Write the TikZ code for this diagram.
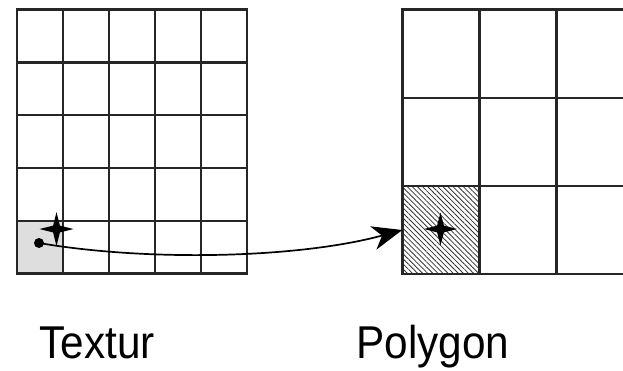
\documentclass[tikz,border=0pt]{standalone}
\usepackage{fontspec}
\setmainfont{Liberation Sans}
\usetikzlibrary{arrows.meta,patterns.meta}
\tikzset{
  gridline/.style={line width=2.4pt,black!85},
  starshape/.style={fill=black},
  lbl/.style={font=\fontsize{46}{50}\selectfont,anchor=base,inner sep=0pt,xscale=0.92},
  link/.style={line width=1.7pt,-{Stealth[length=30pt,width=24pt,inset=9pt]}},
}
\newcommand{\fourstar}[4]{% center x, y, arm length, inner
  \fill[starshape] (#1,#2) ++(0,-#3) -- ++(#4,{#3-#4}) -- ++({#3-#4},#4) -- ++({-#3+#4},#4) -- ++(-#4,{#3-#4}) -- ++(-#4,{-#3+#4}) -- ++({-#3+#4},-#4) -- ++({#3-#4},-#4) -- cycle;}
\begin{document}
\begin{tikzpicture}[x=1pt,y=-1pt]
\useasboundingbox (0,0) rectangle (623,370);
\fill[white] (0,0) rectangle (623,370);
% left grid
\fill[black!13] (17,221.5) rectangle (63,273.5);
\foreach \x in {17,63,109,155,201,247}
  \draw[gridline] (\x,9.5) -- (\x,273.5);
\foreach \y in {9.5,62.3,115.1,167.9,220.7,273.5}
  \draw[gridline] (15.8,\y) -- (248.2,\y);
% right grid
\begin{scope}
\clip (380,0) rectangle (623,370);
\path[pattern={Lines[angle=-45,distance=3.6pt,line width=0.8pt]},pattern color=black!80] (402.5,186.5) rectangle (479.5,274);
\foreach \x in {402.5,479.5,556.5,633.5}
  \draw[gridline] (\x,9.5) -- (\x,274);
\foreach \y in {9.5,97.7,186,274}
  \draw[gridline] (401.3,\y) -- (640,\y);
\end{scope}
\node[inner sep=0pt,minimum width=77pt,minimum height=88pt] (target) at (441,230) {};
% stars
\fourstar{56.5}{229}{17}{3.4}
\fourstar{440.5}{229}{16.5}{3.4}
% dot and connector
\node[circle,fill=black,inner sep=0pt,minimum size=10pt] (dot) at (39,243) {};
\draw[link] (dot.center) .. controls (150,262) and (300,258) .. (target.west);
% labels
\node[lbl] (tex) at (97,358) {Textur};
\node[lbl] (poly) at (433,358) {Polygon};
\end{tikzpicture}
\end{document}
